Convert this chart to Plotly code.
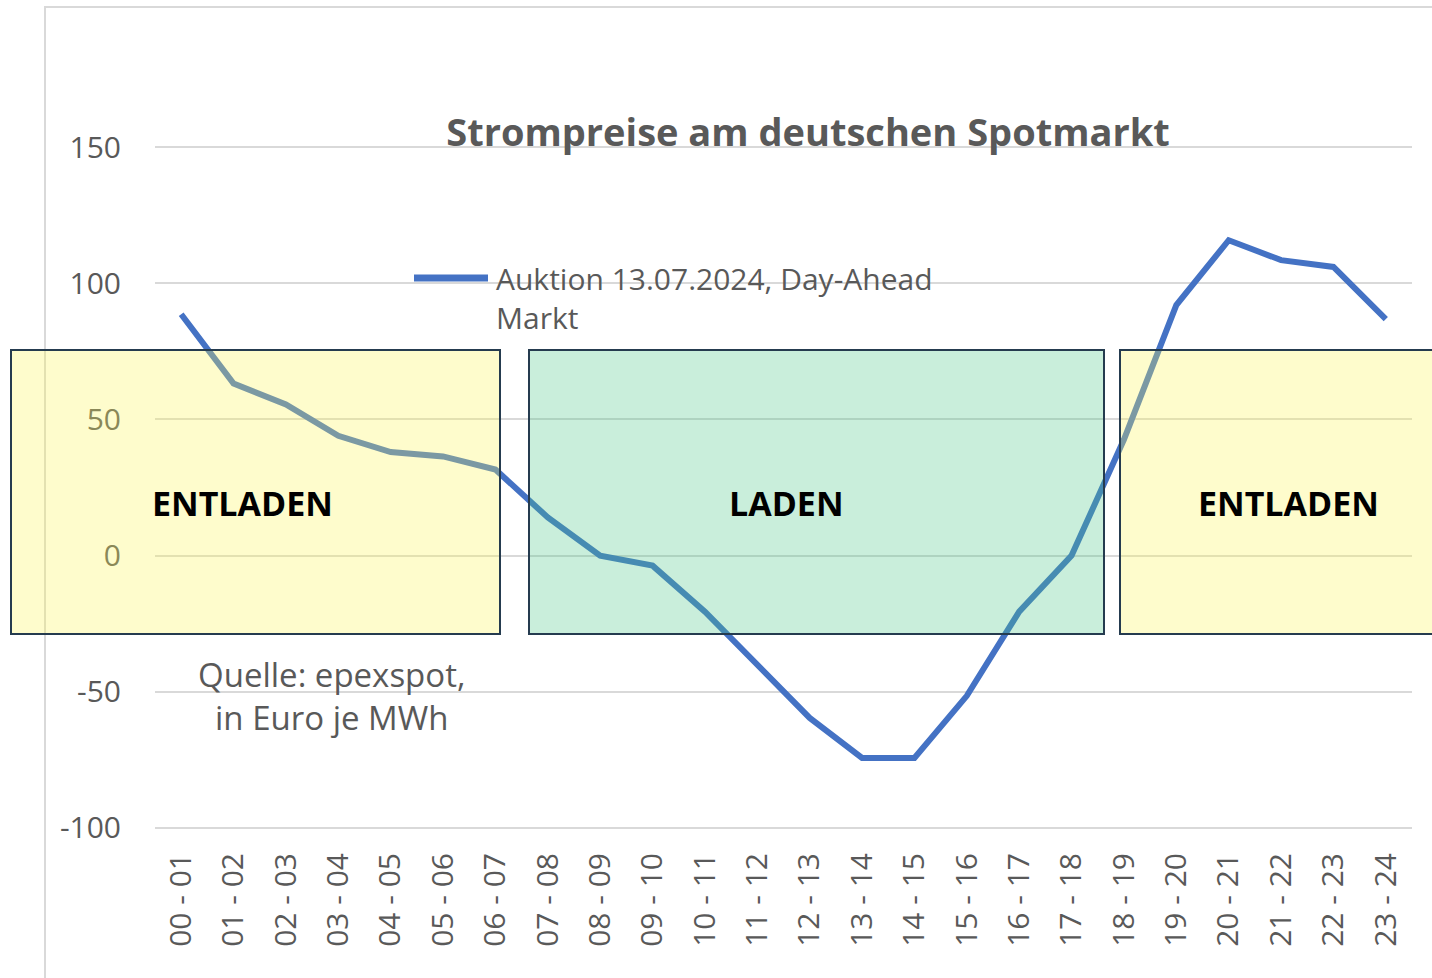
import plotly.graph_objects as go

hours = [f"{h:02d} - {h+1:02d}" for h in range(24)]
prices = [88.6, 63.2, 55.5, 44.0, 38.0, 36.4, 31.6, 14.0, 0.0, -3.7, -20.6, -40.0,
          -59.6, -74.3, -74.3, -51.5, -20.6, 0.0, 42.6, 92.0, 115.8, 108.5, 106.0, 86.8]
y_ticks = [-100, -50, 0, 50, 100, 150]
y_tick_text = ["-100", "-50", "0", "50", "100", "150"]
series_name = "Auktion 13.07.2024, Day-Ahead<br>Markt"
title_text = "Strompreise am deutschen Spotmarkt"
source_text = "Quelle: epexspot,<br>in Euro je MWh"
zones = [("ENTLADEN", "y"), ("LADEN", "g"), ("ENTLADEN", "y")]

W, H = 1432, 978
L, R, T, B = 155, 20, 146, 149
PW, PH = W - L - R, H - T - B

def px(x):
    return (x - L) / PW

def py(y):
    return (H - B - y) / PH

FONT = "Open Sans"
GREY = "#595959"

fig = go.Figure()
fig.add_trace(go.Scatter(x=hours, y=prices, mode="lines",
                         line=dict(color="#4472c4", width=6),
                         name=series_name, showlegend=False))

shapes = []
# outer chart frame
shapes.append(dict(type="rect", xref="paper", yref="paper",
                   x0=px(45), x1=px(1445), y0=py(990), y1=py(7),
                   line=dict(color="#d9d9d9", width=2), fillcolor="rgba(0,0,0,0)",
                   layer="below"))
# legend line
shapes.append(dict(type="line", xref="paper", yref="paper",
                   x0=px(414), x1=px(488), y0=py(278), y1=py(278),
                   line=dict(color="#4472c4", width=7)))

boxes = [(11, 500), (529, 1104), (1120, 1445)]
fills = {"y": "rgb(252,245,85)", "g": "rgb(75,198,135)"}
for (x0, x1), (label, kind) in zip(boxes, zones):
    shapes.append(dict(type="rect", xref="paper", yref="paper",
                       x0=px(x0), x1=px(x1), y0=py(634), y1=py(350),
                       fillcolor=fills[kind], opacity=0.3,
                       line=dict(width=0), layer="above"))
    shapes.append(dict(type="rect", xref="paper", yref="paper",
                       x0=px(x0), x1=px(x1), y0=py(634), y1=py(350),
                       fillcolor="rgba(0,0,0,0)",
                       line=dict(color="#253b4f", width=2), layer="above"))

annotations = []
label_x = [242, 786, 1288]
for (label, kind), lx in zip(zones, label_x):
    annotations.append(dict(xref="paper", yref="paper", x=px(lx), y=py(503),
                            text=f"<b>{label}</b>", showarrow=False,
                            xanchor="center", yanchor="middle",
                            font=dict(family=FONT, size=34, color="black")))
annotations.append(dict(xref="paper", yref="paper", x=px(494), y=py(298),
                        text=series_name, showarrow=False, align="left",
                        xanchor="left", yanchor="middle",
                        font=dict(family=FONT, size=30, color=GREY)))
annotations.append(dict(xref="paper", yref="paper", x=px(331), y=py(696),
                        text=source_text, showarrow=False, align="center",
                        xanchor="center", yanchor="middle",
                        font=dict(family=FONT, size=33, color=GREY)))

fig.update_layout(
    width=W, height=H,
    margin=dict(l=L, r=R, t=T, b=B, autoexpand=False),
    paper_bgcolor="white", plot_bgcolor="white",
    title=dict(text=f"<b>{title_text}</b>", x=808 / W, y=1 - 133 / H,
               xref="container", yref="container", xanchor="center", yanchor="middle",
               font=dict(family=FONT, size=38, color=GREY)),
    font=dict(family=FONT, color=GREY),
    shapes=shapes, annotations=annotations,
    showlegend=False,
)
fig.update_xaxes(type="category", range=[-0.5, 23.5], tickangle=-90, showgrid=False,
                 showline=False, ticks="", ticklabelstandoff=17,
                 tickfont=dict(family=FONT, size=30, color=GREY))
fig.update_yaxes(range=[-100.4, 150.4], tickvals=y_ticks, ticktext=y_tick_text,
                 showgrid=True, gridcolor="#d9d9d9", gridwidth=2, zeroline=False,
                 showline=False, ticks="", ticklabelstandoff=33,
                 tickfont=dict(family=FONT, size=30, color=GREY))

fig.write_html("out.html", config={"displayModeBar": False},
               post_script="document.body.style.margin='0';document.body.style.overflow='hidden';")
